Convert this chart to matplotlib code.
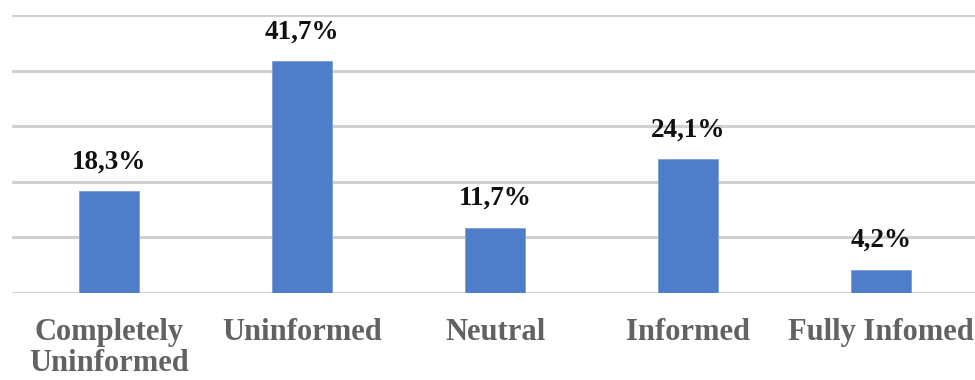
import matplotlib.pyplot as plt
import numpy as np

# Survey answers: how informed respondents feel
categories = ["Completely\nUninformed", "Uninformed", "Neutral", "Informed", "Fully Infomed"]
shares = [18.3, 41.7, 11.7, 24.1, 4.2]
value_labels = ["18,3%", "41,7%", "11,7%", "24,1%", "4,2%"]

fig = plt.figure(figsize=(9.75, 3.8), dpi=100)
ax = fig.add_axes([0.0128, 0.229, 0.99, 0.7315])

x = np.arange(len(categories))
bars = ax.bar(x, shares, width=0.31, color="#4e7dc9", edgecolor="#7a9fd8",
              linewidth=0.6, zorder=3)

# value labels above each bar
for b, lab in zip(bars, value_labels):
    ax.text(b.get_x() + b.get_width() / 2, b.get_height() + 4.1, lab,
            ha="center", va="baseline", fontsize=19.5, fontweight="bold",
            family="Liberation Serif", color="#111111")

ax.set_xlim(-0.5, 4.5)
ax.set_ylim(0, 50)
ax.set_yticks(np.arange(0, 51, 10))
ax.yaxis.grid(True, color="#d0d0d0", linewidth=2.2, zorder=0)
ax.set_yticklabels([])
ax.tick_params(axis="y", length=0)
ax.tick_params(axis="x", length=0, pad=18)
ax.set_xticks(x)
ax.set_xticklabels(categories, fontsize=22, fontweight="bold",
                   family="Liberation Serif", color="#626262", linespacing=1.1,
                   va="top")
for s in ax.spines.values():
    s.set_visible(False)

fig.savefig("out.png", dpi=100)
